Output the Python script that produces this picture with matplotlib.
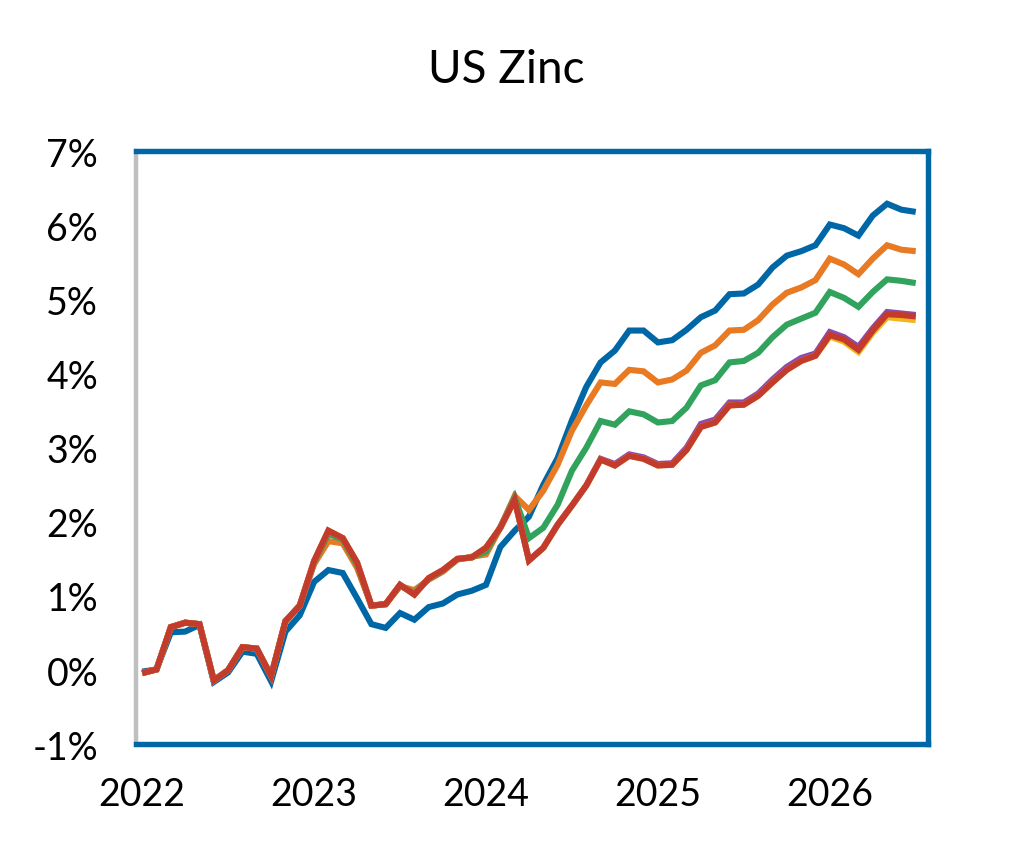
import matplotlib
matplotlib.use("Agg")
import matplotlib.pyplot as plt
import numpy as np

plt.rcParams['font.family'] = ['Lato', 'DejaVu Sans']

years = ["2022", "2023", "2024", "2025", "2026"]
months = list(range(55))  # Jan 2022 .. Jul 2026, monthly

blue = [-0.02, 0.01, 0.51, 0.52, 0.61, -0.16, -0.03, 0.25, 0.22, -0.15,
        0.52, 0.74, 1.19, 1.35, 1.31, 0.97, 0.62, 0.57, 0.77, 0.68,
        0.85, 0.90, 1.02, 1.07, 1.15, 1.66, 1.88, 2.07, 2.50, 2.86,
        3.37, 3.82, 4.15, 4.31, 4.58, 4.58, 4.42, 4.45, 4.59, 4.76,
        4.85, 5.07, 5.08, 5.20, 5.43, 5.59, 5.65, 5.73, 6.01, 5.96,
        5.86, 6.13, 6.29, 6.21, 6.18]

red = [-0.04, 0.01, 0.58, 0.64, 0.62, -0.14, 0.00, 0.31, 0.29, -0.08,
       0.66, 0.87, 1.47, 1.88, 1.78, 1.45, 0.87, 0.89, 1.15, 1.02,
       1.24, 1.35, 1.50, 1.52, 1.65, 1.92, 2.30, 1.48, 1.65, 1.96,
       2.22, 2.49, 2.84, 2.76, 2.89, 2.85, 2.76, 2.77, 2.97, 3.28,
       3.34, 3.57, 3.58, 3.70, 3.88, 4.05, 4.17, 4.24, 4.52, 4.46,
       4.32, 4.58, 4.80, 4.79, 4.77]

orange = [-0.04, 0.01, 0.58, 0.64, 0.62, -0.14, 0.00, 0.31, 0.29, -0.08,
          0.66, 0.87, 1.43, 1.74, 1.71, 1.38, 0.87, 0.89, 1.13, 1.08,
          1.22, 1.33, 1.49, 1.53, 1.56, 1.92, 2.35, 2.16, 2.42, 2.77,
          3.23, 3.57, 3.88, 3.86, 4.05, 4.03, 3.88, 3.92, 4.04, 4.28,
          4.38, 4.58, 4.59, 4.72, 4.93, 5.09, 5.16, 5.26, 5.55, 5.47,
          5.34, 5.55, 5.73, 5.67, 5.65]

green = [-0.04, 0.01, 0.58, 0.64, 0.62, -0.14, 0.00, 0.31, 0.29, -0.08,
         0.66, 0.87, 1.45, 1.84, 1.76, 1.42, 0.87, 0.89, 1.14, 1.04,
         1.23, 1.34, 1.50, 1.52, 1.60, 1.93, 2.33, 1.78, 1.92, 2.23,
         2.69, 3.00, 3.36, 3.31, 3.49, 3.45, 3.34, 3.36, 3.54, 3.84,
         3.91, 4.15, 4.17, 4.28, 4.49, 4.66, 4.74, 4.82, 5.10, 5.02,
         4.90, 5.10, 5.27, 5.25, 5.22]

purple = [-0.04, 0.01, 0.58, 0.64, 0.62, -0.14, 0.00, 0.31, 0.29, -0.08,
          0.66, 0.87, 1.47, 1.88, 1.78, 1.45, 0.87, 0.89, 1.15, 1.02,
          1.24, 1.35, 1.50, 1.52, 1.65, 1.92, 2.30, 1.48, 1.65, 1.96,
          2.22, 2.49, 2.85, 2.78, 2.91, 2.87, 2.78, 2.79, 3.00, 3.32,
          3.38, 3.61, 3.61, 3.73, 3.92, 4.09, 4.21, 4.27, 4.56, 4.49,
          4.36, 4.61, 4.83, 4.81, 4.79]

yellow = [-0.04, 0.01, 0.58, 0.64, 0.62, -0.14, 0.00, 0.31, 0.29, -0.08,
          0.66, 0.87, 1.47, 1.88, 1.78, 1.45, 0.87, 0.89, 1.15, 1.02,
          1.24, 1.35, 1.50, 1.52, 1.65, 1.92, 2.30, 1.48, 1.65, 1.96,
          2.22, 2.49, 2.84, 2.76, 2.89, 2.85, 2.76, 2.77, 2.97, 3.28,
          3.34, 3.57, 3.58, 3.70, 3.88, 4.05, 4.17, 4.24, 4.50, 4.43,
          4.29, 4.55, 4.76, 4.74, 4.72]

series = [
    (blue, "#0067A7"),
    (orange, "#E87A24"),
    (green, "#31A35C"),
    (purple, "#8E4BAE"),
    (yellow, "#F2B51B"),
    (red, "#C23B2C"),
]

fig = plt.figure(figsize=(10.13, 8.45), dpi=100)
ax = fig.add_axes([0.134, 0.118, 0.782, 0.702])

for vals, col in series:
    ax.plot(months, vals, color=col, lw=4.4, solid_joinstyle='miter',
            solid_capstyle='butt')

ax.set_xlim(-0.45, 54.85)
ax.set_ylim(-1, 7)
ax.set_yticks(range(-1, 8))
ax.set_yticklabels([f"{v}%" for v in range(-1, 8)])
ax.set_xticks([0, 12, 24, 36, 48])
ax.set_xticklabels(years)
ax.tick_params(axis='both', length=0, labelsize=27, colors='black')
ax.tick_params(axis='y', pad=27)
ax.tick_params(axis='x', pad=23)

for side in ['top', 'right', 'bottom']:
    ax.spines[side].set_color('#0067A7')
    ax.spines[side].set_linewidth(3.9)
ax.spines['left'].set_color('#BFBFBF')
ax.spines['left'].set_linewidth(3.2)

fig.text(0.5, 0.917, "US Zinc", ha='center', va='center', fontsize=33,
         color='black')

fig.savefig("out.png", dpi=100)
